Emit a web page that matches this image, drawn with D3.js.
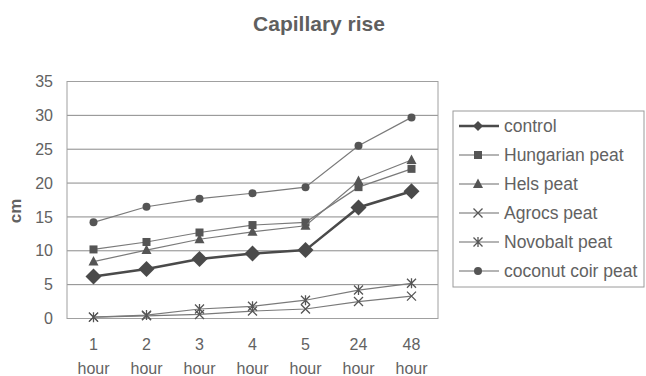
<!DOCTYPE html>
<html><head><meta charset="utf-8">
<script src="https://cdn.jsdelivr.net/npm/d3@7"></script>
<style>body{margin:0;background:#fff}svg{display:block}text{font-family:"Liberation Sans",Arial,sans-serif}</style>
</head><body><svg id="c" width="646" height="376"></svg>
<script>
const categories = ["1 hour","2 hour","3 hour","4 hour","5 hour","24 hour","48 hour"];
const seriesNames = ["control","Hungarian peat","Hels peat","Agrocs peat","Novobalt peat","coconut coir peat"];
const control = [6.2,7.3,8.8,9.6,10.1,16.4,18.8];
const hungarian = [10.2,11.3,12.7,13.8,14.2,19.4,22.1];
const hels = [8.4,10.1,11.7,12.8,13.7,20.3,23.4];
const agrocs = [0.2,0.4,0.6,1.1,1.4,2.5,3.3];
const novobalt = [0.2,0.5,1.4,1.8,2.7,4.2,5.2];
const coconut = [14.2,16.5,17.7,18.5,19.4,25.5,29.7];
const yTicks = [0,5,10,15,20,25,30,35];

const seriesValues = [control,hungarian,hels,agrocs,novobalt,coconut];
const markers = ["diamond","square","triangle","x","star","circle"];

const svg = d3.select("#c");
const L=67,R=438,T=81.5,B=318.5;
const x = d3.scalePoint().domain(categories).range([L,R]).padding(0.5);
const y = d3.scaleLinear().domain([0,35]).range([B,T]);
const grey="#626262";

svg.append("text").attr("x",319).attr("y",31).attr("text-anchor","middle")
  .attr("font-size",21).attr("font-weight","bold").attr("fill","#5f5f5f").text("Capillary rise");

// gridlines
svg.append("g").selectAll("line").data(yTicks).join("line")
  .attr("x1",L).attr("x2",R).attr("y1",d=>y(d)).attr("y2",d=>y(d))
  .attr("stroke","#8a8a8a").attr("stroke-width",1);
svg.append("rect").attr("x",L).attr("y",T).attr("width",R-L).attr("height",B-T)
  .attr("fill","none").attr("stroke","#a0a0a0");

// y axis
const ya = svg.append("g").attr("transform",`translate(${L},0)`)
  .call(d3.axisLeft(y).tickValues(yTicks).tickSize(0).tickPadding(14));
ya.select(".domain").remove();
ya.selectAll("text").attr("font-size",16).attr("fill",grey).attr("font-family","Liberation Sans,Arial");

// x axis labels (two lines)
const xa = svg.append("g");
categories.forEach(c=>{
  const parts=c.split(" ");
  const t=xa.append("text").attr("x",x(c)).attr("text-anchor","middle").attr("font-size",16).attr("fill",grey);
  t.append("tspan").attr("x",x(c)).attr("y",350).text(parts[0]);
  t.append("tspan").attr("x",x(c)).attr("y",374).text(parts[1]);
});

svg.append("text").attr("transform","translate(21,211) rotate(-90)").attr("text-anchor","middle")
  .attr("font-size",17).attr("font-weight","bold").attr("fill",grey).text("cm");

function drawMarker(g,type,cx,cy){
  switch(type){
    case "diamond": g.append("path").attr("d",`M${cx},${cy-8}L${cx+8},${cy}L${cx},${cy+8}L${cx-8},${cy}Z`).attr("fill","#4a4a4a"); break;
    case "square": g.append("rect").attr("x",cx-4).attr("y",cy-4).attr("width",8).attr("height",8).attr("fill","#555"); break;
    case "triangle": g.append("path").attr("d",`M${cx},${cy-5.5}L${cx+5},${cy+4}L${cx-5},${cy+4}Z`).attr("fill","#555"); break;
    case "x": g.append("path").attr("d",`M${cx-4.5},${cy-4.5}L${cx+4.5},${cy+4.5}M${cx-4.5},${cy+4.5}L${cx+4.5},${cy-4.5}`).attr("stroke","#555").attr("stroke-width",1.3); break;
    case "star": g.append("path").attr("d",`M${cx-4.5},${cy-4.5}L${cx+4.5},${cy+4.5}M${cx-4.5},${cy+4.5}L${cx+4.5},${cy-4.5}M${cx},${cy-5}L${cx},${cy+5}`).attr("stroke","#555").attr("stroke-width",1.3); break;
    case "circle": g.append("circle").attr("cx",cx).attr("cy",cy).attr("r",4).attr("fill","#555"); break;
  }
}

const line = d3.line().x((d,i)=>x(categories[i])).y(d=>y(d));
seriesValues.forEach((vals,si)=>{
  const g=svg.append("g");
  g.append("path").attr("d",line(vals)).attr("fill","none")
    .attr("stroke",si===0?"#4a4a4a":"#7a7a7a").attr("stroke-width",si===0?2.5:1.2);
  vals.forEach((v,i)=>drawMarker(g,markers[si],x(categories[i]),y(v)));
});

// legend
const lg = svg.append("g");
lg.append("rect").attr("x",453).attr("y",111).attr("width",191).attr("height",176)
  .attr("fill","#fff").attr("stroke","#9a9a9a");
seriesNames.forEach((n,i)=>{
  const cy = 126 + i*29;
  lg.append("line").attr("x1",459).attr("x2",499).attr("y1",cy).attr("y2",cy)
    .attr("stroke",i===0?"#4a4a4a":"#6a6a6a").attr("stroke-width",i===0?2.5:1.2);
  const mg=lg.append("g");
  if(i===0){ mg.append("path").attr("d",`M478,${cy-5}L483,${cy}L478,${cy+5}L473,${cy}Z`).attr("fill","#4a4a4a"); }
  else drawMarker(mg,markers[i],478,cy);
  lg.append("text").attr("x",504).attr("y",cy+6).attr("font-size",17.5).attr("fill",grey).text(n);
});
</script></body></html>
